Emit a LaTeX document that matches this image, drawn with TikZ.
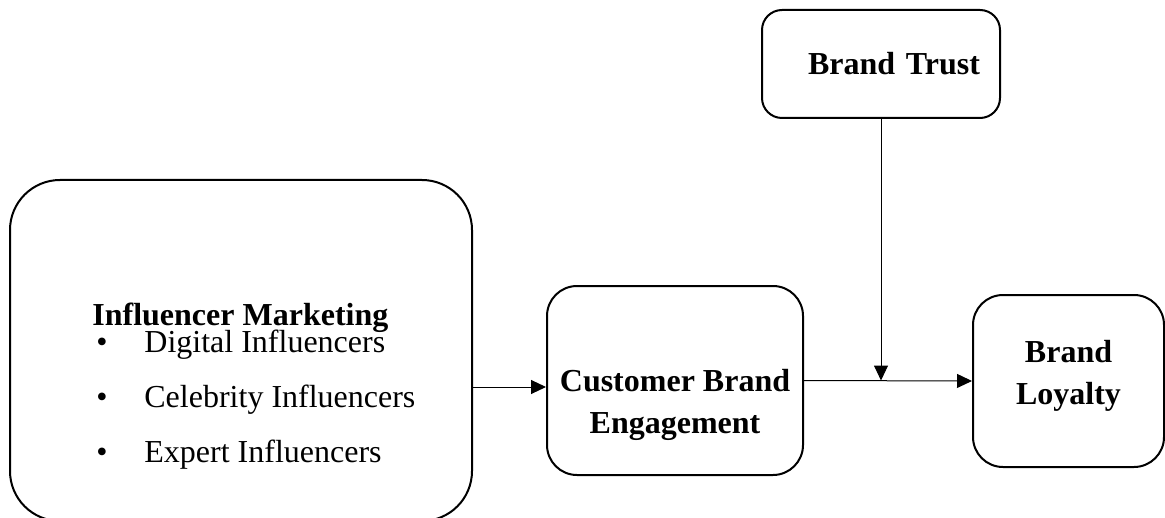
\documentclass[tikz,border=0pt]{standalone}
\usepackage{fontspec}
\setmainfont{Liberation Serif}
\usetikzlibrary{arrows.meta}

\begin{document}
\begin{tikzpicture}[x=0.5pt,y=-0.5pt,
        box/.style={draw,line width=1pt,rounded corners=#1,inner sep=0pt},
        box/.default=15pt,
        title/.style={font=\fontsize{16}{21}\selectfont\bfseries,align=center},
        item/.style={font=\fontsize{16}{19}\selectfont,anchor=base west,inner sep=0pt},
        arr/.style={-{Triangle[length=7.5pt,width=7pt]},line width=0.5pt}]
        \useasboundingbox (0,0) rectangle (1165,518);
        \clip (0,0) rectangle (1165,518);

        \coordinate (I) at (241,350.5);
        \coordinate (E) at (675,380.5);
        \coordinate (T) at (881,64);
        \coordinate (L) at (1068.5,381);

        \node[box=25pt,minimum width=231pt,minimum height=170.5pt] (infl) at (I) {};
        \node[title,anchor=base west,inner sep=0pt] (infltitle) at (92,325) {Influencer Marketing};
        \node[item] (b1) at (96,352) {•};
        \node[item] (b2) at (96,407) {•};
        \node[item] (b3) at (96,462) {•};
        \node[item] (digital) at (144,352) {Digital Influencers};
        \node[item] (celeb) at (144,407) {Celebrity Influencers};
        \node[item] (expert) at (144,462) {Expert Influencers};

        \node[box,minimum width=128pt,minimum height=94.5pt] (cbe) at (E) {};
        \node[title] (cbelbl) at ([yshift=-12pt]cbe.center) {Customer Brand\\Engagement};
        \node[box=10pt,title,text width=99pt,align=right,inner xsep=10pt,minimum height=54pt] (trust) at (T) {Brand Trust};
        \node[box,minimum width=95.5pt,minimum height=86pt] (loyal) at (L) {};
        \node[title] (loyallbl) at ([yshift=2.5pt]loyal.center) {Brand\\Loyalty};

        \coordinate (A) at ([yshift=-3.25pt]cbe.west);
        \coordinate (J) at (trust.south |- cbe.east);

        \draw[arr] (infl.east |- A) -- (A);
        \draw[arr] (cbe.east) -- (loyal.west);
        \draw[arr] (trust.south) -- (J);
\end{tikzpicture}
\end{document}
